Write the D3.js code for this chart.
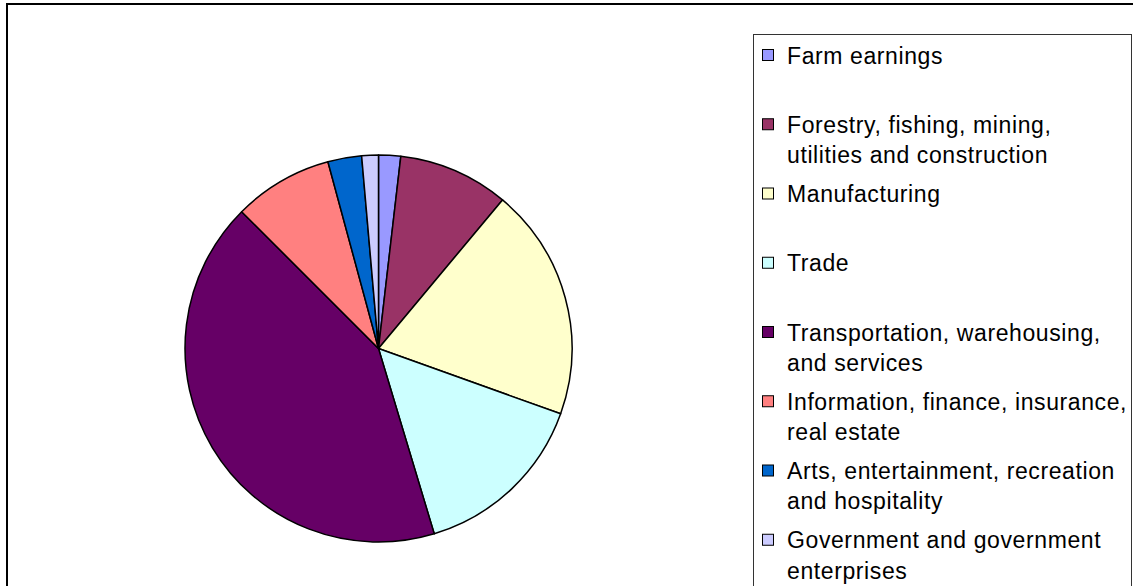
<!DOCTYPE html>
<html>
<head>
<meta charset="utf-8">
<script src="https://cdn.jsdelivr.net/npm/d3@7"></script>
<style>
  body { margin: 0; background: #fff; }
  svg { display: block; }
</style>
</head>
<body>
<svg id="chart"></svg>
<script>
// shares of earnings by industry (percent)
var categories = [
  "Farm earnings",
  "Forestry, fishing, mining,\nutilities and construction",
  "Manufacturing",
  "Trade",
  "Transportation, warehousing,\nand services",
  "Information, finance, insurance,\nreal estate",
  "Arts, entertainment, recreation\nand hospitality",
  "Government and government\nenterprises"
];
var shares = [1.84, 9.23, 19.41, 14.87, 42.15, 8.29, 2.82, 1.39];
var colors = ["#9999FF", "#993366", "#FFFFCC", "#CCFFFF", "#660066", "#FF8080", "#0066CC", "#CCCCFF"];

var svgWidth = 1133;
var svgHeight = 586;
var cx = 378.5, cy = 348.5, radius = 193.5;

var svg = d3.select("#chart")
  .attr("width", svgWidth)
  .attr("height", svgHeight);

// outer chart frame (runs off the right and bottom edges)
svg.append("rect")
  .attr("x", 7).attr("y", 4)
  .attr("width", 1200).attr("height", 700)
  .attr("fill", "none")
  .attr("stroke", "#000")
  .attr("stroke-width", 2);

var data = categories.map(function(c, i) {
  return { name: c, value: shares[i], color: colors[i] };
});

var pie = d3.pie()
  .sort(null)
  .value(function(d) { return d.value; });

var arc = d3.arc()
  .innerRadius(0)
  .outerRadius(radius);

svg.append("g")
  .attr("transform", "translate(" + cx + "," + cy + ")")
  .selectAll("path")
  .data(pie(data))
  .enter()
  .append("path")
  .attr("d", arc)
  .attr("fill", function(d) { return d.data.color; })
  .attr("stroke", "#000")
  .attr("stroke-width", 1.5)
  .attr("stroke-linejoin", "round");

// legend
var legend = svg.append("g");
legend.append("rect")
  .attr("x", 753.5).attr("y", 34.5)
  .attr("width", 378).attr("height", 600)
  .attr("fill", "#fff")
  .attr("stroke", "#333")
  .attr("stroke-width", 1);

var itemStep = 69.25;
var firstBaseline = 63.5;

var items = legend.selectAll("g.item")
  .data(data)
  .enter()
  .append("g")
  .attr("class", "item")
  .attr("transform", function(d, i) {
    return "translate(0," + (firstBaseline + itemStep * i) + ")";
  });

items.append("rect")
  .attr("x", 762.5).attr("y", -14)
  .attr("width", 11).attr("height", 11)
  .attr("fill", function(d) { return d.color; })
  .attr("stroke", "#000")
  .attr("stroke-width", 1);

items.append("text")
  .attr("font-family", "'Liberation Sans', Arial, sans-serif")
  .attr("font-size", 23)
  .attr("letter-spacing", 0.6)
  .attr("fill", "#000")
  .selectAll("tspan")
  .data(function(d) { return d.name.split("\n"); })
  .enter()
  .append("tspan")
  .attr("x", 787)
  .attr("y", function(d, j) { return j * 30.3; })
  .text(function(d) { return d; });
</script>
</body>
</html>
